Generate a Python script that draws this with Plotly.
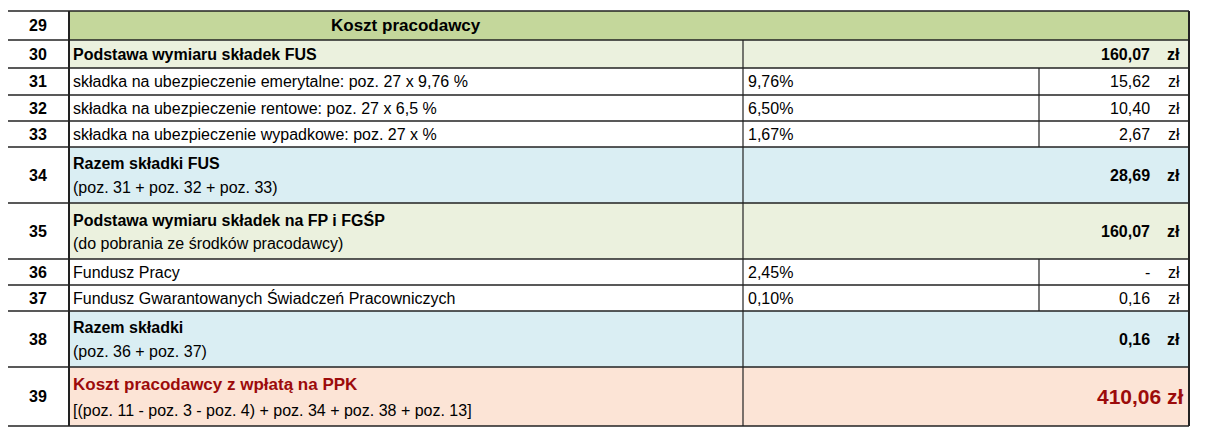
import plotly.graph_objects as go

row_nums = ["29","30","31","32","33","34","35","36","37","38","39"]
labels = ["Koszt pracodawcy","Podstawa wymiaru składek FUS",
          "składka na ubezpieczenie emerytalne: poz. 27 x 9,76 %",
          "składka na ubezpieczenie rentowe: poz. 27 x 6,5 %",
          "składka na ubezpieczenie wypadkowe: poz. 27 x %",
          "Razem składki FUS","Podstawa wymiaru składek na FP i FGŚP",
          "Fundusz Pracy","Fundusz Gwarantowanych Świadczeń Pracowniczych",
          "Razem składki","Koszt pracodawcy z wpłatą na PPK"]
sublabels = ["","","","","","(poz. 31 + poz. 32 + poz. 33)",
             "(do pobrania ze środków pracodawcy)","","","(poz. 36 + poz. 37)",
             "[(poz. 11 - poz. 3 - poz. 4) + poz. 34 + poz. 38 + poz. 13]"]
rates = ["","","9,76%","6,50%","1,67%","","","2,45%","0,10%","",""]
amounts = ["","160,07","15,62","10,40","2,67","28,69","160,07","-","0,16","0,16","410,06"]
kinds = ["header","sum","item","item","item","sum","sum","item","item","sum","total"]
fills = ["#C4D79B","#EBF1DE","#FFFFFF","#FFFFFF","#FFFFFF","#DAEEF3","#EBF1DE",
         "#FFFFFF","#FFFFFF","#DAEEF3","#FCE4D6"]

ys = [11,40,68,95,121,147,203,259,285,311,367,426]
X0, X1, X2, X3, X4 = 7, 69, 743, 1039, 1189
FONT = "Liberation Sans"
RED = "#9C0B0B"
OFF = 8

shapes, ann = [], []
def line(x0,y0,x1,y1,w=1.5):
    shapes.append(dict(type="line",x0=x0,y0=y0,x1=x1,y1=y1,line=dict(color="#222",width=w)))
def txt(x,y,s,anchor="left",size=16,bold=False,color="#000"):
    ann.append(dict(x=x,y=y,text=f"<b>{s}</b>" if bold else s,showarrow=False,
                    xanchor=anchor,yanchor="middle",font=dict(family=FONT,size=size,color=color)))

for i,k in enumerate(kinds):
    t,b = ys[i],ys[i+1]
    shapes.append(dict(type="rect",x0=X1,x1=X4,y0=t,y1=b,fillcolor=fills[i],line=dict(width=0),layer="below"))
    mid=(t+b)/2
    txt((X0+X1)/2,mid,row_nums[i],"center",16,True)
    if k=="header":
        txt((X1+X2)/2,mid,labels[i],"center",17,True)
        continue
    if k=="item":
        txt(X1+2,mid,labels[i],"left",16)
        txt(X2+3,mid,rates[i],"left",16)
        txt(X4-37,mid,amounts[i],"right",16)
        txt(X4-7,mid,"zł","right",16)
        line(X2,t,X2,b,1.2); line(X3,t,X3,b,1.2)
    else:
        col = RED if k=="total" else "#000"
        if sublabels[i]:
            txt(X1+2,t+(b-t)*0.3,labels[i],"left",17 if k=="total" else 16,True,col)
            txt(X1+2,t+(b-t)*0.73,sublabels[i],"left",16)
        else:
            txt(X1+2,mid,labels[i],"left",16,True)
        line(X2,t,X2,b,1.2)
        if k=="total":
            txt(X4-3,mid,amounts[i]+" zł","right",21,True,RED)
        else:
            txt(X4-37,mid,amounts[i],"right",16,True)
            txt(X4-7,mid,"zł","right",16,True)

for y in ys: line(X0,y,X4,y,1.5)
line(X0,ys[0],X0,ys[-1],2); line(X1,ys[0],X1,ys[-1],2); line(X4,ys[0],X4,ys[-1],2)

fig=go.Figure()
fig.update_layout(width=1206,height=434,margin=dict(l=0,r=0,t=0,b=0),
    paper_bgcolor="white",plot_bgcolor="white",shapes=shapes,annotations=ann,
    xaxis=dict(range=[OFF,1206+OFF],visible=False,fixedrange=True),
    yaxis=dict(range=[434+OFF,OFF],visible=False,fixedrange=True),showlegend=False)
fig.write_html("out.html")
